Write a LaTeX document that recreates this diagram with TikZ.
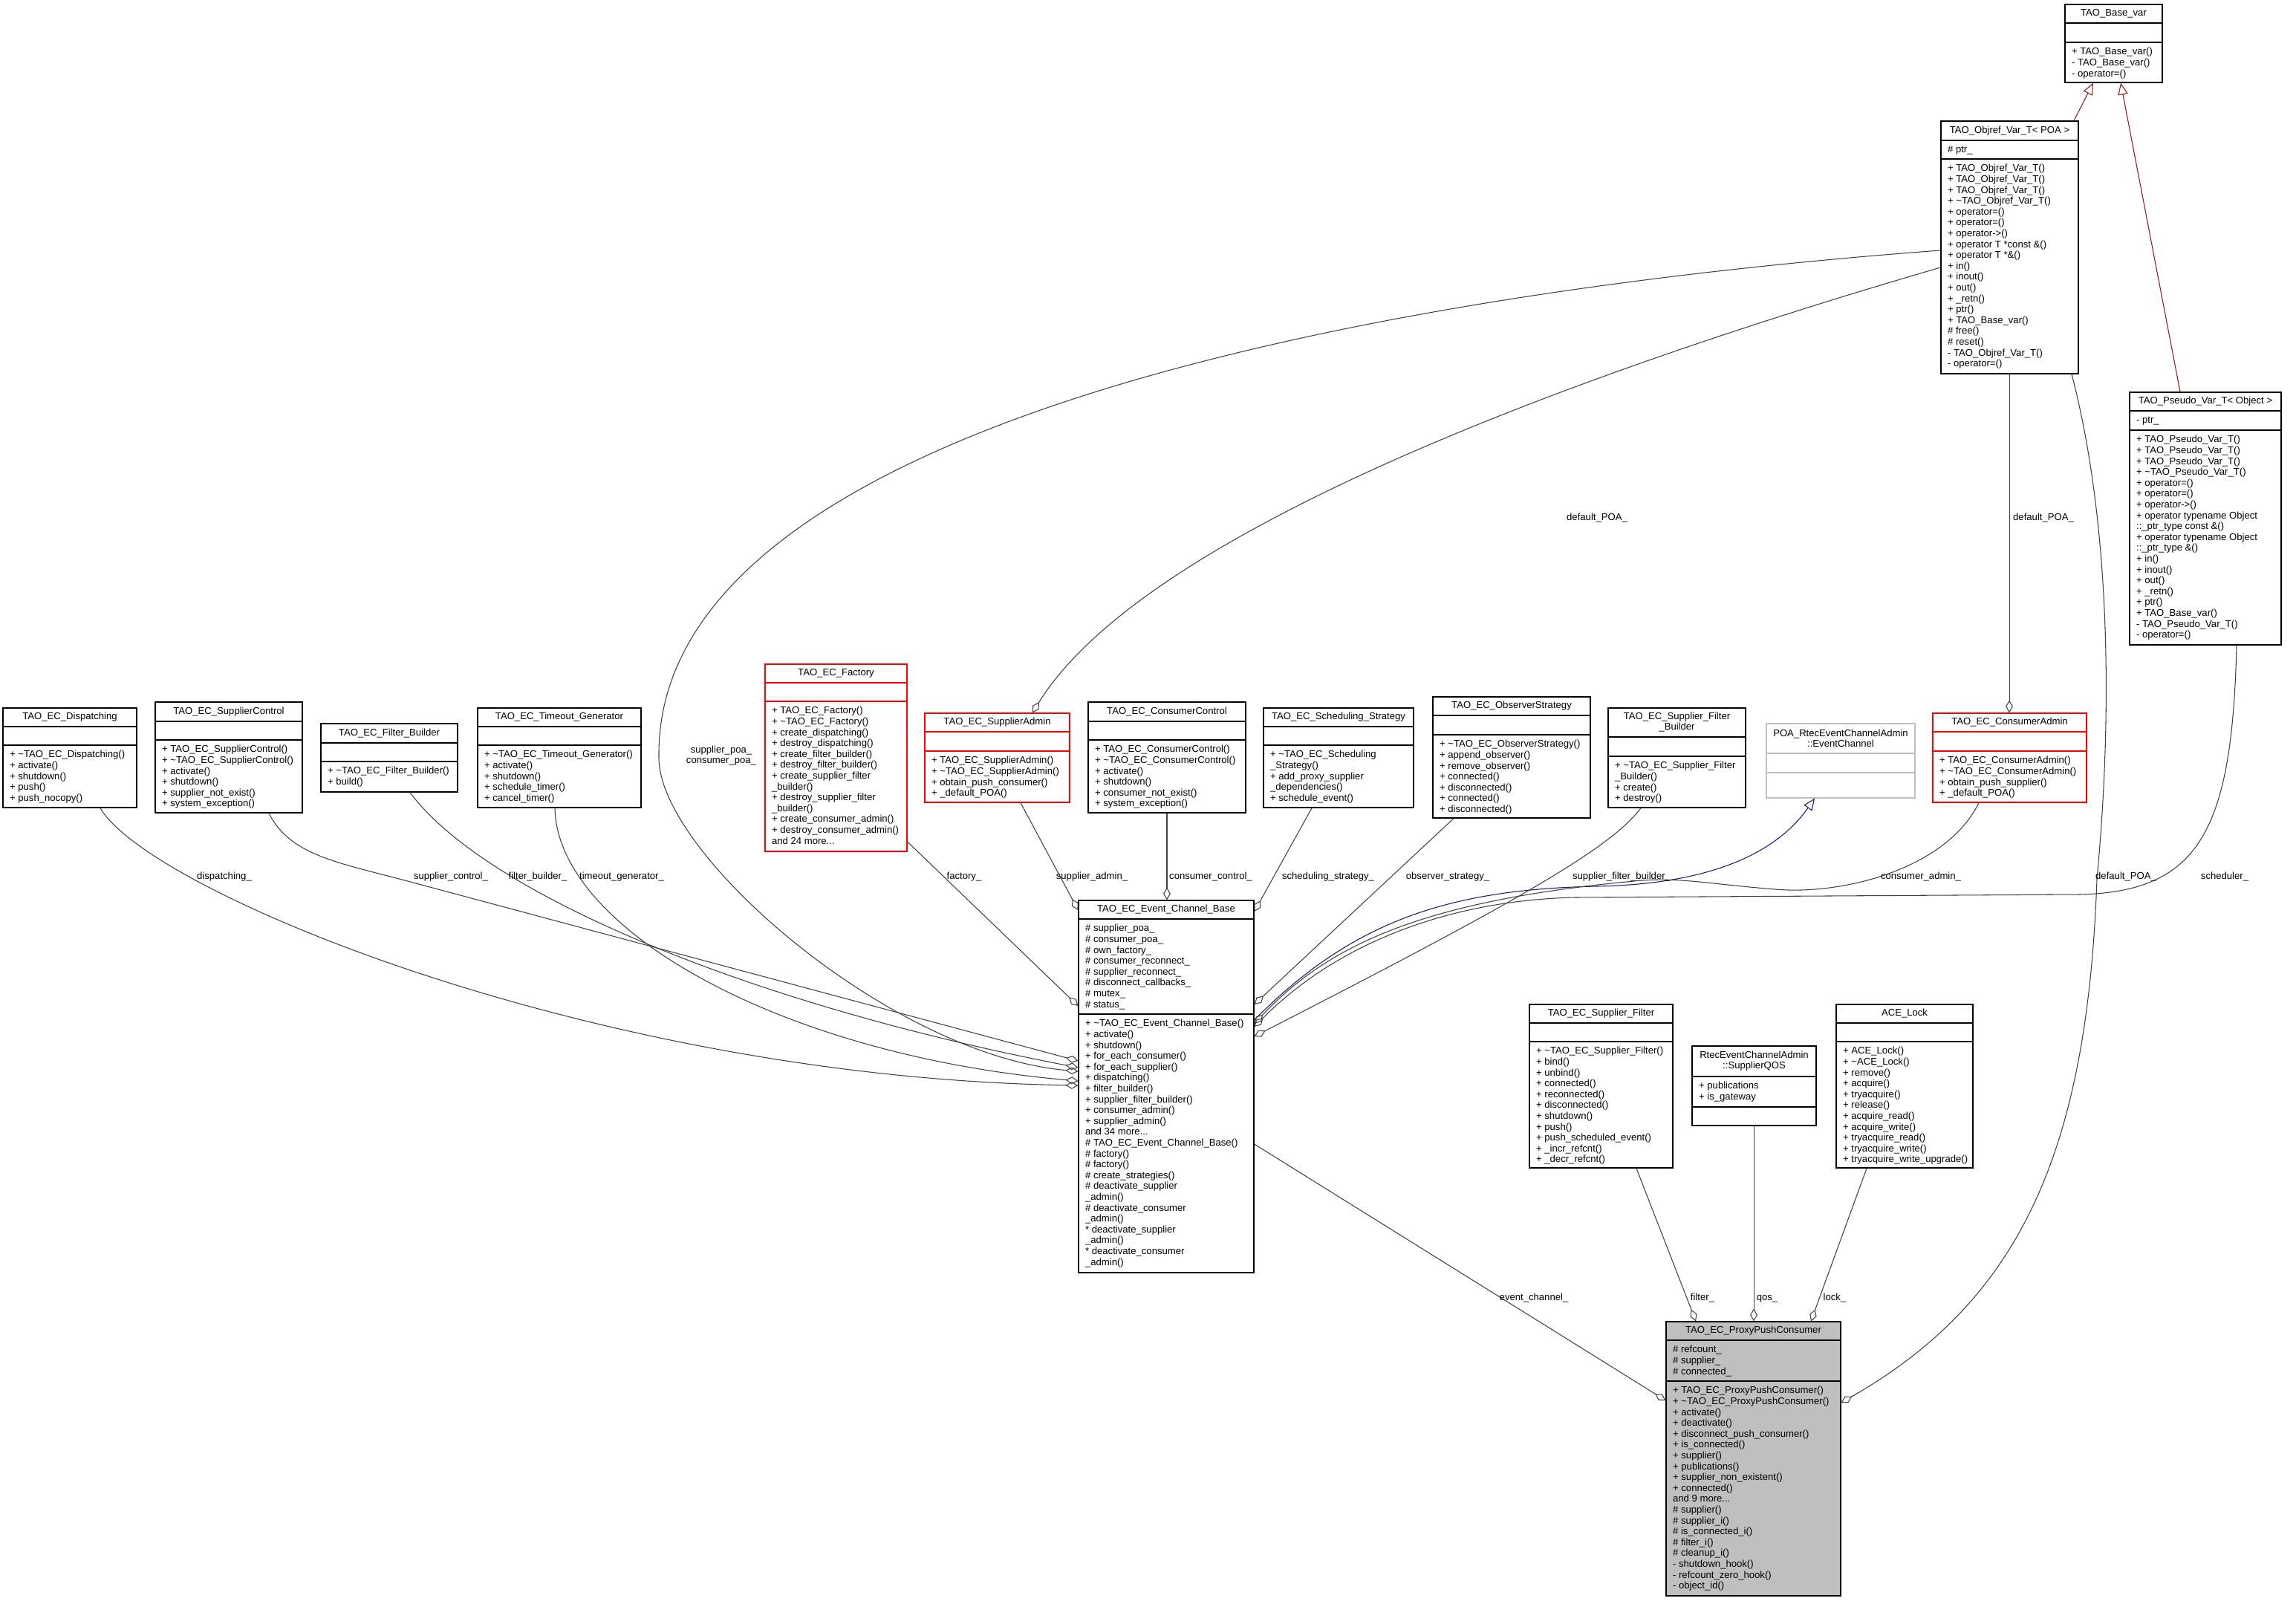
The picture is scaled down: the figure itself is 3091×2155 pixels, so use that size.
\documentclass[tikz,border=0pt]{standalone}
\usepackage{fontspec}
\setmainfont{Liberation Sans}
\usetikzlibrary{arrows.meta,fit,calc}
\definecolor{grey25}{HTML}{404040}
\definecolor{grey75}{HTML}{BFBFBF}
\definecolor{pubedge}{HTML}{191970}
\definecolor{privedge}{HTML}{8B1A1A}
\definecolor{trunc}{HTML}{FF0000}
\newcommand{\umlfont}{\fontsize{3.73}{4.15}\selectfont}
\newcommand{\dtor}{\textasciitilde}
\tikzset{
  classbox/.style={draw=black, fill=white, line width=0.35pt, inner sep=0pt},
  redbox/.style={draw=trunc},
  greybox/.style={draw=grey75},
  mainbox/.style={fill=grey75},
  classtext/.style={font=\umlfont, inner sep=0pt, align=left},
  member/.style={draw=grey25, line width=0.3pt, -{Diamond[open, length=4.8pt, width=2.8pt]}},
  inherit/.style={line width=0.3pt, -{Triangle[open, length=4.5pt, width=3.8pt]}},
  edgelabel/.style={font=\umlfont, inner sep=0pt, anchor=base, align=center}
}
\newcommand{\umlclass}[9][]{%
  \node[classbox, #1, fit={(#3) (#4)}] (#2) {};
  \draw[classbox, #1] (#2.west |- 0,#5) -- (#2.east |- 0,#5)
    (#2.west |- 0,#6) -- (#2.east |- 0,#6);
  \path (#2.north west) -- (#2.east |- 0,#5)
    node[classtext, midway, align=center] (#2-title) {#7};
  \node[classtext, anchor=north west] (#2-attrs) at ($(#2.west |- 0,#5)+(9,6)$) {\strut #8};
  \node[classtext, anchor=north west] (#2-ops) at ($(#2.west |- 0,#6)+(9,6)$) {\strut #9};
}

\begin{document}
\begin{tikzpicture}[x=0.01cm, y=-0.01cm]
\useasboundingbox (0,0) rectangle (3091,2155);

\umlclass{base}{2780,6}{2911,111}{31}{57}{TAO\_Base\_var}{}%
  {+ TAO\_Base\_var()\\- TAO\_Base\_var()\\- operator=()}
\umlclass{objref}{2613,163}{2798,503}{189}{214}{TAO\_Objref\_Var\_T< POA >}{\# ptr\_}%
  {+ TAO\_Objref\_Var\_T()\\+ TAO\_Objref\_Var\_T()\\+ TAO\_Objref\_Var\_T()\\+ \dtor TAO\_Objref\_Var\_T()\\
   + operator=()\\+ operator=()\\+ operator->()\\+ operator T *const \&()\\+ operator T *\&()\\
   + in()\\+ inout()\\+ out()\\+ \_retn()\\+ ptr()\\+ TAO\_Base\_var()\\\# free()\\\# reset()\\
   - TAO\_Objref\_Var\_T()\\- operator=()}
\umlclass{pseudo}{2867,528}{3071,868}{553}{579}{TAO\_Pseudo\_Var\_T< Object >}{- ptr\_}%
  {+ TAO\_Pseudo\_Var\_T()\\+ TAO\_Pseudo\_Var\_T()\\+ TAO\_Pseudo\_Var\_T()\\+ \dtor TAO\_Pseudo\_Var\_T()\\
   + operator=()\\+ operator=()\\+ operator->()\\+ operator typename Object\\::\_ptr\_type const \&()\\
   + operator typename Object\\::\_ptr\_type \&()\\+ in()\\+ inout()\\+ out()\\+ \_retn()\\+ ptr()\\
   + TAO\_Base\_var()\\- TAO\_Pseudo\_Var\_T()\\- operator=()}

\umlclass{dispatching}{4,953}{184,1087}{978}{1003}{TAO\_EC\_Dispatching}{}%
  {+ \dtor TAO\_EC\_Dispatching()\\+ activate()\\+ shutdown()\\+ push()\\+ push\_nocopy()}
\umlclass{supcontrol}{209,945}{407,1094}{971}{996}{TAO\_EC\_SupplierControl}{}%
  {+ TAO\_EC\_SupplierControl()\\+ \dtor TAO\_EC\_SupplierControl()\\+ activate()\\+ shutdown()\\
   + supplier\_not\_exist()\\+ system\_exception()}
\umlclass{filterbuilder}{432,974}{616,1066}{1000}{1025}{TAO\_EC\_Filter\_Builder}{}%
  {+ \dtor TAO\_EC\_Filter\_Builder()\\+ build()}
\umlclass{timeout}{643,953}{863,1087}{978}{1003}{TAO\_EC\_Timeout\_Generator}{}%
  {+ \dtor TAO\_EC\_Timeout\_Generator()\\+ activate()\\+ shutdown()\\+ schedule\_timer()\\+ cancel\_timer()}
\umlclass[redbox]{factory}{1030,894}{1221,1146}{919}{944}{TAO\_EC\_Factory}{}%
  {+ TAO\_EC\_Factory()\\+ \dtor TAO\_EC\_Factory()\\+ create\_dispatching()\\+ destroy\_dispatching()\\
   + create\_filter\_builder()\\+ destroy\_filter\_builder()\\+ create\_supplier\_filter\\\_builder()\\
   + destroy\_supplier\_filter\\\_builder()\\+ create\_consumer\_admin()\\+ destroy\_consumer\_admin()\\and 24 more...}
\umlclass[redbox]{supadmin}{1245,960}{1440,1080}{985}{1011}{TAO\_EC\_SupplierAdmin}{}%
  {+ TAO\_EC\_SupplierAdmin()\\+ \dtor TAO\_EC\_SupplierAdmin()\\+ obtain\_push\_consumer()\\+ \_default\_POA()}
\umlclass{conscontrol}{1465,945}{1677,1094}{971}{996}{TAO\_EC\_ConsumerControl}{}%
  {+ TAO\_EC\_ConsumerControl()\\+ \dtor TAO\_EC\_ConsumerControl()\\+ activate()\\+ shutdown()\\
   + consumer\_not\_exist()\\+ system\_exception()}
\umlclass{scheduling}{1701,953}{1903,1087}{978}{1003}{TAO\_EC\_Scheduling\_Strategy}{}%
  {+ \dtor TAO\_EC\_Scheduling\\\_Strategy()\\+ add\_proxy\_supplier\\\_dependencies()\\+ schedule\_event()}
\umlclass{observer}{1929,938}{2141,1101}{963}{989}{TAO\_EC\_ObserverStrategy}{}%
  {+ \dtor TAO\_EC\_ObserverStrategy()\\+ append\_observer()\\+ remove\_observer()\\+ connected()\\
   + disconnected()\\+ connected()\\+ disconnected()}
\umlclass{sfbuilder}{2165,953}{2350,1087}{992}{1018}{TAO\_EC\_Supplier\_Filter\\\_Builder}{}%
  {+ \dtor TAO\_EC\_Supplier\_Filter\\\_Builder()\\+ create()\\+ destroy()}
\umlclass[greybox]{poa}{2378,974}{2578,1074}{1014}{1040}{POA\_RtecEventChannelAdmin\\::EventChannel}{}{}
\umlclass[redbox]{consadmin}{2602,960}{2809,1080}{985}{1011}{TAO\_EC\_ConsumerAdmin}{}%
  {+ TAO\_EC\_ConsumerAdmin()\\+ \dtor TAO\_EC\_ConsumerAdmin()\\+ obtain\_push\_supplier()\\+ \_default\_POA()}

\umlclass{ecb}{1452,1212}{1688,1713}{1237}{1365}{TAO\_EC\_Event\_Channel\_Base}%
  {\# supplier\_poa\_\\\# consumer\_poa\_\\\# own\_factory\_\\\# consumer\_reconnect\_\\
   \# supplier\_reconnect\_\\\# disconnect\_callbacks\_\\\# mutex\_\\\# status\_}%
  {+ \dtor TAO\_EC\_Event\_Channel\_Base()\\+ activate()\\+ shutdown()\\+ for\_each\_consumer()\\
   + for\_each\_supplier()\\+ dispatching()\\+ filter\_builder()\\+ supplier\_filter\_builder()\\
   + consumer\_admin()\\+ supplier\_admin()\\and 34 more...\\\# TAO\_EC\_Event\_Channel\_Base()\\
   \# factory()\\\# factory()\\\# create\_strategies()\\\# deactivate\_supplier\\\_admin()\\
   \# deactivate\_consumer\\\_admin()\\* deactivate\_supplier\\\_admin()\\* deactivate\_consumer\\\_admin()}
\umlclass{sfilter}{2059,1352}{2252,1572}{1377}{1402}{TAO\_EC\_Supplier\_Filter}{}%
  {+ \dtor TAO\_EC\_Supplier\_Filter()\\+ bind()\\+ unbind()\\+ connected()\\+ reconnected()\\
   + disconnected()\\+ shutdown()\\+ push()\\+ push\_scheduled\_event()\\+ \_incr\_refcnt()\\+ \_decr\_refcnt()}
\umlclass{qos}{2278,1408}{2445,1515}{1449}{1490}{RtecEventChannelAdmin\\::SupplierQOS}%
  {+ publications\\+ is\_gateway}{}
\umlclass{acelock}{2472,1352}{2656,1572}{1377}{1402}{ACE\_Lock}{}%
  {+ ACE\_Lock()\\+ \dtor ACE\_Lock()\\+ remove()\\+ acquire()\\+ tryacquire()\\+ release()\\
   + acquire\_read()\\+ acquire\_write()\\+ tryacquire\_read()\\+ tryacquire\_write()\\+ tryacquire\_write\_upgrade()}
\umlclass[mainbox]{ppc}{2243,1779}{2478,2148}{1804}{1859}{TAO\_EC\_ProxyPushConsumer}%
  {\# refcount\_\\\# supplier\_\\\# connected\_}%
  {+ TAO\_EC\_ProxyPushConsumer()\\+ \dtor TAO\_EC\_ProxyPushConsumer()\\+ activate()\\+ deactivate()\\
   + disconnect\_push\_consumer()\\+ is\_connected()\\+ supplier()\\+ publications()\\
   + supplier\_non\_existent()\\+ connected()\\and 9 more...\\\# supplier()\\\# supplier\_i()\\
   \# is\_connected\_i()\\\# filter\_i()\\\# cleanup\_i()\\- shutdown\_hook()\\- refcount\_zero\_hook()\\- object\_id()}

\draw[inherit, privedge] (objref.north -| 2792,0) -- (base.south -| 2818,0);
\draw[inherit, privedge] (pseudo.north -| 2935,0) -- (base.south -| 2855,0);
\draw[inherit, pubedge] (ecb.east |- 0,1373) .. controls (1820,1240) and (1950,1197) .. (2150,1193)
  .. controls (2300,1190) and (2390,1150) .. (poa.south -| 2443,0);

\draw[member] (dispatching.south -| 135,0) .. controls (200,1200) and (800,1450) .. (ecb.west |- 0,1461);
\draw[member] (supcontrol.south -| 362,0) .. controls (390,1150) and (450,1160) .. (545,1185) -- (ecb.west |- 0,1428);
\draw[member] (filterbuilder.south -| 552,0) .. controls (650,1200) and (1000,1350) .. (ecb.west |- 0,1437);
\draw[member] (timeout.south -| 747,0) .. controls (750,1250) and (1050,1420) .. (ecb.west |- 0,1455);
\draw[member] (objref.west |- 0,337) .. controls (1900,390) and (880,560) .. (887,1020)
  .. controls (887,1150) and (1200,1420) .. (ecb.west |- 0,1442);
\draw[member] (factory.east |- 0,1133) -- (ecb.west |- 0,1354);
\draw[member] (supadmin.south -| 1374,0) -- (ecb.west |- 0,1225);
\draw[member] (conscontrol.south -| 1571,0) -- (ecb.north -| 1571,0);
\draw[member] (scheduling.south -| 1766,0) -- (ecb.east |- 0,1227);
\draw[member] (observer.south -| 1957,0) -- (ecb.east |- 0,1352);
\draw[member] (sfbuilder.south -| 2209,0) .. controls (2170,1140) and (2050,1210) .. (ecb.east |- 0,1395);
\draw[member] (consadmin.south -| 2664,0) .. controls (2620,1170) and (2480,1205) .. (2390,1197)
  .. controls (2300,1190) and (2260,1180) .. (2200,1186) .. controls (1920,1212) and (1790,1270) .. (ecb.east |- 0,1378);
\draw[member] (pseudo.south -| 3011,0) .. controls (3005,1120) and (2960,1200) .. (2800,1204) -- (2120,1208)
  .. controls (1950,1212) and (1800,1270) .. (ecb.east |- 0,1382);
\draw[member] (objref.west |- 0,360) .. controls (2200,480) and (1550,700) .. (supadmin.north -| 1390,0);
\draw[member] (objref.south -| 2705,0) -- (consadmin.north -| 2705,0);
\draw[member] (objref.south -| 2789,0) .. controls (2840,700) and (2845,950) .. (2823,1183)
  .. controls (2810,1550) and (2720,1750) .. (ppc.east |- 0,1888);
\draw[member] (ecb.east |- 0,1540) -- (ppc.west |- 0,1885);
\draw[member] (sfilter.south -| 2203,0) -- (ppc.north -| 2283,0);
\draw[member] (qos.south -| 2361,0) -- (ppc.north -| 2361,0);
\draw[member] (acelock.south -| 2513,0) -- (ppc.north -| 2438,0);

\node[edgelabel] (l-disp) at (302,1183) {dispatching\_};
\node[edgelabel] (l-supctl) at (607,1183) {supplier\_control\_};
\node[edgelabel] (l-filt) at (724,1183) {filter\_builder\_};
\node[edgelabel] (l-tmo) at (837,1183) {timeout\_generator\_};
\node[edgelabel, anchor=center] (l-poa) at (971,1017) {supplier\_poa\_\\consumer\_poa\_};
\node[edgelabel] (l-fact) at (1298,1183) {factory\_};
\node[edgelabel] (l-supadm) at (1470,1183) {supplier\_admin\_};
\node[edgelabel] (l-conctl) at (1630,1183) {consumer\_control\_};
\node[edgelabel] (l-sched) at (1788,1183) {scheduling\_strategy\_};
\node[edgelabel] (l-obs) at (1949,1183) {observer\_strategy\_};
\node[edgelabel] (l-sfb) at (2183,1183) {supplier\_filter\_builder\_};
\node[edgelabel] (l-conadm) at (2586,1183) {consumer\_admin\_};
\node[edgelabel] (l-dpoa3) at (2862,1183) {default\_POA\_};
\node[edgelabel] (l-schr) at (2995,1183) {scheduler\_};
\node[edgelabel] (l-dpoa1) at (2150,700) {default\_POA\_};
\node[edgelabel] (l-dpoa2) at (2751,700) {default\_POA\_};
\node[edgelabel] (l-ec) at (2065,1750) {event\_channel\_};
\node[edgelabel] (l-filter) at (2292,1750) {filter\_};
\node[edgelabel] (l-qos) at (2379,1750) {qos\_};
\node[edgelabel] (l-lock) at (2470,1750) {lock\_};
\end{tikzpicture}
\end{document}
